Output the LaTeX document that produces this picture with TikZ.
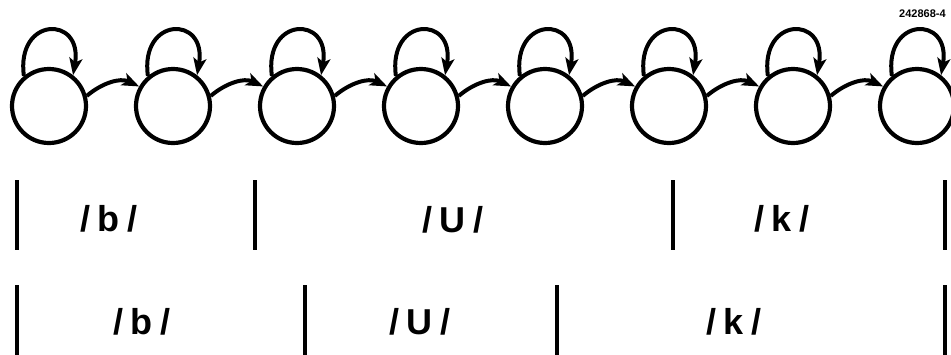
\documentclass[tikz,border=0pt]{standalone}
\usepackage{fontspec}
\setmainfont{Liberation Sans}
\usetikzlibrary{arrows.meta}
\begin{document}
\begin{tikzpicture}[x=1pt,y=-1pt,
  state/.style={circle,draw,line width=4.2pt,minimum size=74pt,inner sep=0pt},
  flow/.style={line width=4pt,-{Stealth[length=17pt,width=13pt,inset=4pt]}},
  bar/.style={line width=3.6pt},
  phone/.style={font=\bfseries\fontsize{36}{40}\selectfont,inner sep=0pt,anchor=center,
    execute at begin node={\spaceskip=0.2em\relax}}]
\useasboundingbox (0,0) rectangle (951,354);

% chain of eight states
\foreach \i in {1,...,8}{
  \node[state] (s\i) at ({49+124*(\i-1)},106) {};
}
% self loops
\foreach \i in {1,...,8}{
  \draw[flow] (s\i.130) .. controls +(-8,-60) and +(10,-60) .. (s\i.52);
}
% forward transitions
\foreach \i [evaluate=\i as \j using int(\i+1)] in {1,...,7}{
  \draw[flow] (s\i.15) to[out=40,in=155] (s\j.150);
}

\node[font=\bfseries\fontsize{11}{12}\selectfont,anchor=west,inner sep=0pt] (tag) at (899,14) {242868-4};

% first segmentation
\coordinate (a1t) at (17,180);  \coordinate (a1b) at (17,250);
\coordinate (a2t) at (255,180); \coordinate (a2b) at (255,250);
\coordinate (a3t) at (673,180); \coordinate (a3b) at (673,250);
\coordinate (a4t) at (945,180); \coordinate (a4b) at (945,250);
\foreach \k in {1,...,4}{ \draw[bar] (a\k t) -- (a\k b); }
\node[phone] (pb1) at (109,219) {/ b /};
\node[phone] (pu1) at (453,220) {/ U /};
\node[phone] (pk1) at (782,219) {/ k /};

% second segmentation
\coordinate (b1t) at (17,285);  \coordinate (b1b) at (17,358);
\coordinate (b2t) at (305,285); \coordinate (b2b) at (305,358);
\coordinate (b3t) at (557,285); \coordinate (b3b) at (557,358);
\coordinate (b4t) at (945,285); \coordinate (b4b) at (945,358);
\foreach \k in {1,...,4}{ \draw[bar] (b\k t) -- (b\k b); }
\node[phone] (pb2) at (142,322) {/ b /};
\node[phone] (pu2) at (420,322) {/ U /};
\node[phone] (pk2) at (734,322) {/ k /};
\end{tikzpicture}
\end{document}
